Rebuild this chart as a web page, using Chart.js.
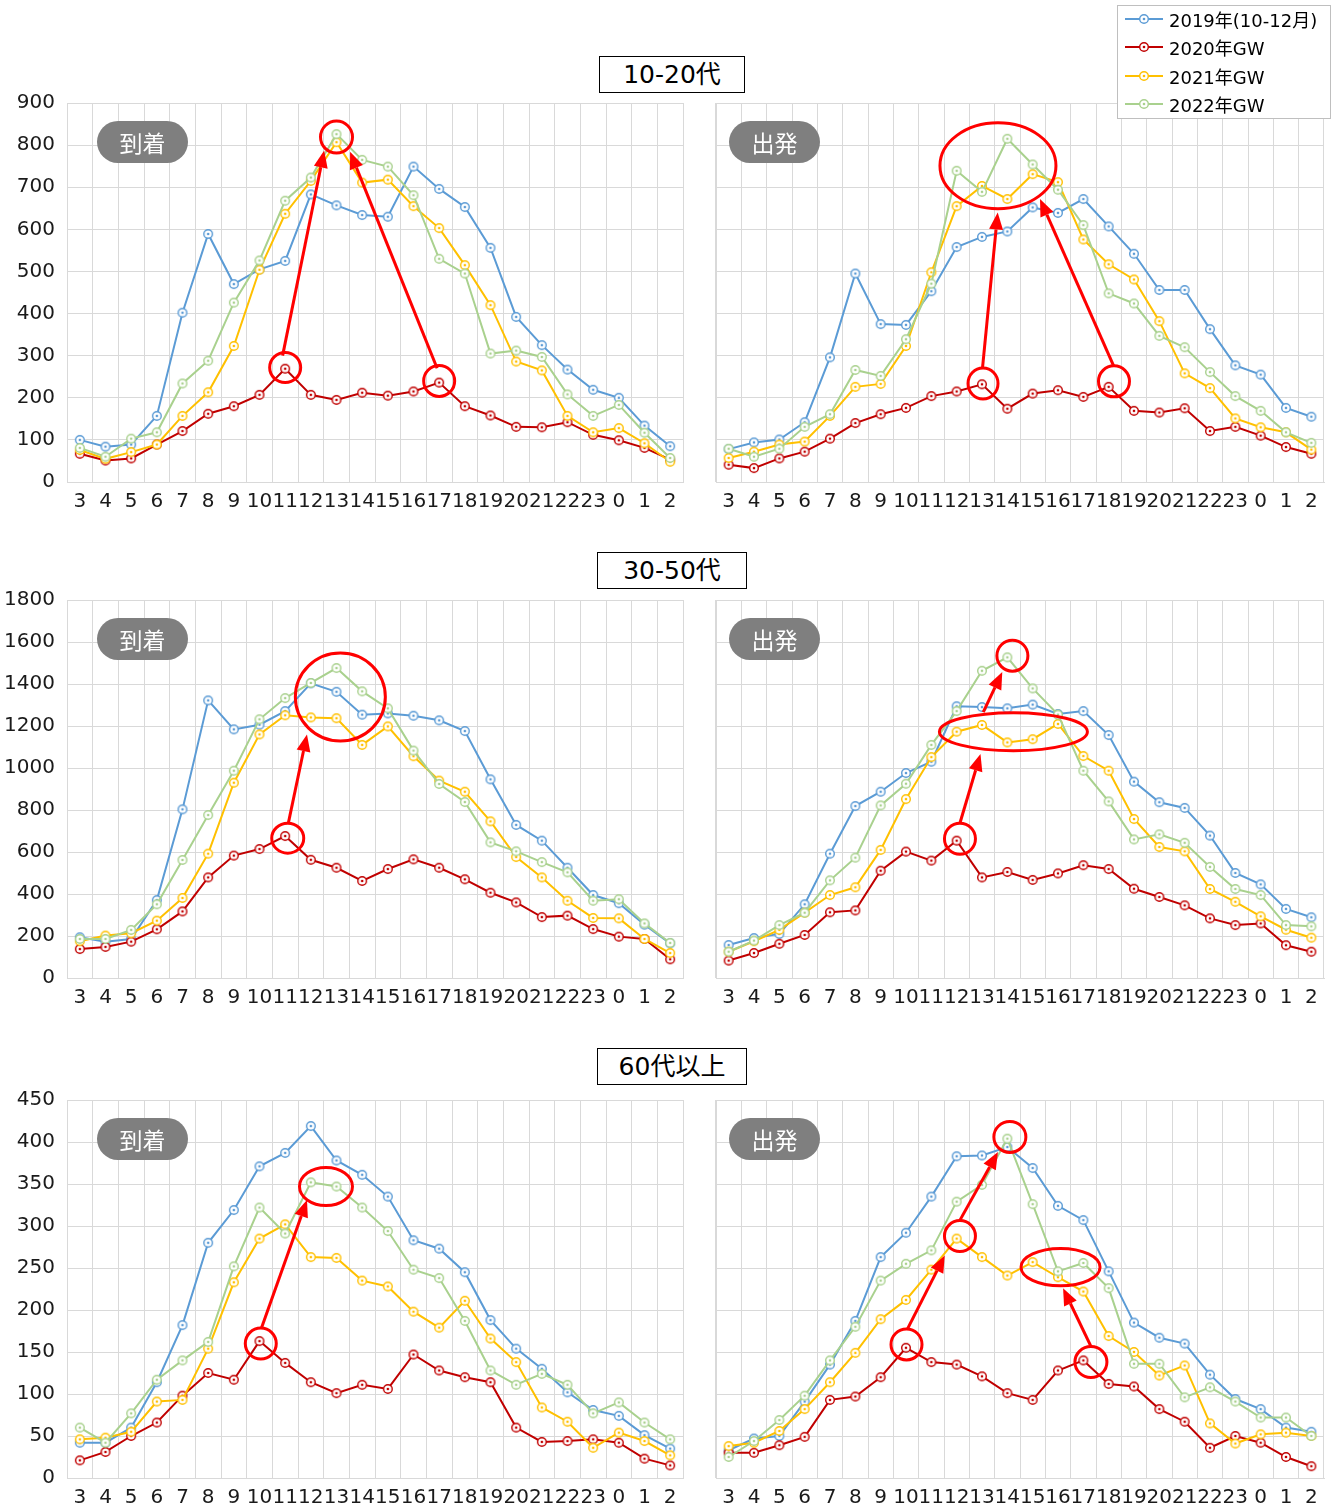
<!DOCTYPE html>
<html><head><meta charset="utf-8">
<script src="https://cdn.jsdelivr.net/npm/chart.js@4.4.1/dist/chart.umd.min.js"></script>
<style>
body{margin:0;background:#fff;}
#wrap{position:relative;width:1337px;height:1507px;overflow:hidden;background:#fff;font-family:"DejaVu Sans","Noto Sans CJK JP",sans-serif;}
canvas.cv{position:absolute;}
.title{position:absolute;border:1px solid #000;background:#fff;font-size:25px;text-align:center;color:#000;box-sizing:border-box;font-family:"DejaVu Sans","Noto Sans CJK JP",sans-serif;z-index:5;}
.pill{position:absolute;background:#7f7f7f;color:#fff;border-radius:21px;width:91px;height:42px;font-family:"Noto Sans CJK JP",sans-serif;font-size:23px;line-height:42px;text-align:center;z-index:5;}
#legend{position:absolute;left:1117px;top:5px;width:214px;height:114px;border:1px solid #bfbfbf;background:#fff;box-sizing:border-box;z-index:6;}
.lrow{position:absolute;left:6px;height:24px;display:flex;align-items:center;}
.lrow span{font-size:18px;color:#000;margin-left:5px;white-space:nowrap;}
</style>
</head><body>
<div id="wrap"></div>
<script>
// ---- data ----
const hours = ['3','4','5','6','7','8','9','10','11','12','13','14','15','16','17','18','19','20','21','22','23','0','1','2'];
const seriesNames = ['2019年(10-12月)','2020年GW','2021年GW','2022年GW'];
const seriesColors = ['#5B9BD5','#C00000','#FFC000','#A9D18E'];

const arr1020_2019 = [100,84,89,157,402,589,470,505,525,683,657,634,630,749,696,653,556,392,325,267,219,200,134,85];
const arr1020_2020 = [67,51,56,89,121,162,180,207,269,207,195,212,205,215,236,180,158,131,130,142,112,99,81,53];
const arr1020_2021 = [76,55,71,89,157,213,323,504,637,715,807,711,718,655,603,515,420,286,265,157,118,128,92,48];
const arr1020_2022 = [81,60,103,118,234,288,426,526,668,723,826,765,749,681,530,495,305,312,297,208,157,183,117,57];

const dep1020_2019 = [78,94,101,142,296,495,375,373,453,558,582,595,652,639,672,607,542,456,456,363,277,255,176,155];
const dep1020_2020 = [41,33,56,72,103,140,161,176,204,215,232,174,210,218,202,226,169,165,175,121,131,110,83,67];
const dep1020_2021 = [57,72,89,96,157,226,233,323,498,655,703,672,731,712,576,517,481,382,258,223,151,130,118,77];
const dep1020_2022 = [79,60,79,131,161,266,252,339,471,739,689,815,754,694,610,448,424,347,320,261,204,169,118,93];

const arr3050_2019 = [194,173,186,371,803,1322,1184,1206,1271,1403,1363,1254,1260,1249,1227,1176,946,729,654,525,395,356,254,165];
const arr3050_2020 = [138,148,173,232,317,479,583,614,676,563,525,462,519,565,525,470,406,360,290,297,233,197,186,89];
const arr3050_2021 = [175,202,213,273,381,592,930,1160,1251,1241,1237,1110,1198,1056,940,887,746,576,479,368,286,284,186,119];
const arr3050_2022 = [186,186,229,351,562,776,987,1232,1333,1405,1476,1365,1284,1083,924,838,646,603,552,503,368,375,260,167];

const dep3050_2019 = [157,190,210,351,592,819,887,976,1030,1294,1290,1284,1302,1257,1271,1157,935,837,810,678,500,446,329,289];
const dep3050_2020 = [83,119,163,205,313,322,511,602,559,654,479,505,467,498,537,519,425,386,346,284,252,260,156,125];
const dep3050_2021 = [125,175,229,311,395,432,610,852,1052,1173,1205,1122,1137,1210,1057,987,757,624,603,424,363,294,230,192];
const dep3050_2022 = [125,178,252,311,465,573,822,925,1110,1271,1463,1527,1379,1254,987,841,660,684,644,529,424,395,252,246];

const arr60_2019 = [42,42,60,114,182,280,319,371,387,419,378,361,335,283,273,245,188,154,130,102,81,74,51,35];
const arr60_2020 = [21,31,50,66,98,125,117,163,137,114,101,111,106,147,128,120,114,60,43,44,46,42,23,15];
const arr60_2021 = [46,48,55,91,93,154,233,285,302,263,262,235,228,198,179,211,166,138,84,67,36,54,44,27];
const arr60_2022 = [60,42,77,117,140,162,252,322,291,352,347,322,294,248,238,187,128,111,124,111,77,90,66,46];

const dep60_2019 = [33,47,50,91,135,187,263,292,335,383,384,394,369,324,307,246,185,167,160,123,94,82,60,55];
const dep60_2020 = [30,30,39,49,93,97,120,155,138,135,121,101,93,128,140,112,109,82,67,36,50,42,25,14];
const dep60_2021 = [38,42,56,82,114,149,189,212,248,285,263,241,257,239,222,169,150,122,134,65,41,52,54,50];
const dep60_2022 = [25,44,69,98,140,180,235,255,271,329,349,404,326,246,256,226,136,136,96,108,91,72,72,50];

const panelTitles = ['10-20代','30-50代','60代以上'];
const sideLabels = ['到着','出発'];
const yMaxes = [900,1800,450];
const ySteps = [100,200,50];

// annotation marks in data coordinates: circles [categoryIndex, value, rx, ry], arrows [i1, v1, i2, v2]
const ann = [
  {circles:[[8.0,272,15.5,15],[14.0,240,15.5,15.5],[10.0,819,16,16]], arrows:[[7.9,300,9.52,787],[13.92,270,10.53,784]]},
  {circles:[[10.63,751,58,43],[10.04,234,15,15.5],[15.21,239,15.5,15.5]], arrows:[[10.02,271,10.62,640],[15.2,275,12.29,672]]},
  {circles:[[10.15,1338,45,44],[8.1,666,16,15]], arrows:[[8.13,741,8.85,1160]]},
  {circles:[[11.2,1535,15.5,15.5],[11.24,1173,74,19],[9.13,663,15.5,15.5]], arrows:[[9.13,738,9.94,1067],[10.05,1266,10.8,1457]]},
  {circles:[[7.05,160,15.5,15.5],[9.59,347,26.5,19]], arrows:[[7.07,178,8.85,331]]},
  {circles:[[11.1,406,16,15.5],[9.13,288,15.5,15.5],[13.1,251,39.5,18.7],[7.02,159,15.5,15.5],[14.3,138,16,15.5]], arrows:[[7.05,177,8.53,265],[9.13,307,10.63,388],[14.31,156,13.2,226]]}
];

const panelData = [
  [arr1020_2019,arr1020_2020,arr1020_2021,arr1020_2022],
  [dep1020_2019,dep1020_2020,dep1020_2021,dep1020_2022],
  [arr3050_2019,arr3050_2020,arr3050_2021,arr3050_2022],
  [dep3050_2019,dep3050_2020,dep3050_2021,dep3050_2022],
  [arr60_2019,arr60_2020,arr60_2021,arr60_2022],
  [dep60_2019,dep60_2020,dep60_2021,dep60_2022]
];

// ---- layout ----
const rowTops = [103,600,1100];
const rowBottoms = [482,978,1478];
const colLeft = [67,709];
const colRight = [684,1325];
const titleBoxes = [[599,56,146,37],[597,552,150,37],[597,1048,150,37]];
const PAD_TOP = 12, PAD_RIGHT = 6, XAX_H = 36;

function marker(color){
  const c=document.createElement('canvas'); c.width=c.height=12;
  const g=c.getContext('2d');
  g.beginPath(); g.arc(6,6,4.3,0,2*Math.PI); g.fillStyle='#fff'; g.fill();
  g.lineWidth=1.4; g.strokeStyle=color; g.stroke();
  g.beginPath(); g.arc(6,6,1.3,0,2*Math.PI); g.fillStyle=color; g.fill();
  return c;
}
const markers = seriesColors.map(marker);

const annPlugin = {
  id:'annMarks',
  afterDatasetsDraw(chart){
    const a = chart.options.plugins.annMarks;
    if(!a) return;
    const ctx=chart.ctx, xs=chart.scales.x, ys=chart.scales.y;
    ctx.save();
    ctx.strokeStyle='#FF0000'; ctx.fillStyle='#FF0000'; ctx.lineWidth=3;
    a.circles.forEach(c=>{
      const x=xs.getPixelForValue(c[0]), y=ys.getPixelForValue(c[1]);
      ctx.beginPath(); ctx.ellipse(x,y,c[2],c[3],0,0,2*Math.PI); ctx.stroke();
    });
    a.arrows.forEach(r=>{
      const x1=xs.getPixelForValue(r[0]), y1=ys.getPixelForValue(r[1]);
      const x2=xs.getPixelForValue(r[2]), y2=ys.getPixelForValue(r[3]);
      const ang=Math.atan2(y2-y1,x2-x1), L=17, W=7;
      const bx=x2-L*Math.cos(ang), by=y2-L*Math.sin(ang);
      ctx.beginPath(); ctx.moveTo(x1,y1); ctx.lineTo(bx,by); ctx.stroke();
      ctx.beginPath(); ctx.moveTo(x2,y2);
      ctx.lineTo(bx+W*Math.sin(ang), by-W*Math.cos(ang));
      ctx.lineTo(bx-W*Math.sin(ang), by+W*Math.cos(ang));
      ctx.closePath(); ctx.fill();
    });
    ctx.restore();
  }
};

const wrap=document.getElementById('wrap');
const GRID='#d9d9d9';

for(let row=0; row<3; row++){
  for(let col=0; col<2; col++){
    const p=row*2+col;
    const plotH=rowBottoms[row]-rowTops[row];
    const left = col===0 ? 0 : colLeft[1];
    const width = colRight[col]+PAD_RIGHT-left;
    const height = PAD_TOP+plotH+XAX_H;
    const cv=document.createElement('canvas');
    cv.className='cv'; cv.width=width; cv.height=height;
    cv.style.left=left+'px'; cv.style.top=(rowTops[row]-PAD_TOP)+'px';
    cv.style.width=width+'px'; cv.style.height=height+'px';
    wrap.appendChild(cv);
    const yW = col===0 ? colLeft[0] : 0;
    const datasets = panelData[p].map((d,i)=>({
      label: seriesNames[i], data: d,
      borderColor: seriesColors[i], backgroundColor: seriesColors[i],
      borderWidth: 2, pointStyle: markers[i], pointRadius: 5,
      tension: 0, order: 3-i, clip: false
    }));
    new Chart(cv.getContext('2d'), {
      type:'line',
      data:{labels:hours, datasets},
      options:{
        responsive:false, animation:false, devicePixelRatio:1,
        layout:{padding:{top:PAD_TOP,right:PAD_RIGHT,left:0,bottom:0}},
        plugins:{legend:{display:false}, tooltip:{enabled:false}, annMarks: ann[p]},
        events:[],
        scales:{
          x:{
            offset:true,
            grid:{offset:true, color:GRID, lineWidth:1, drawTicks:false},
            border:{color:GRID},
            ticks:{autoSkip:false, maxRotation:0, minRotation:0, padding:8, color:'#1a1a1a', font:{family:'DejaVu Sans', size:20}},
            afterFit(s){ s.height = XAX_H; s.paddingLeft = 0; s.paddingRight = 0; }
          },
          y:{
            min:0, max:yMaxes[row],
            grid:{color:GRID, lineWidth:1, drawTicks:false},
            border:{color:GRID},
            ticks:{display: col===0, stepSize:ySteps[row], padding:12, color:'#1a1a1a', font:{family:'DejaVu Sans', size:20},
                   callback:(v)=>String(v)},
            afterFit(s){ s.width = yW; s.paddingTop = 0; s.paddingBottom = 0; }
          }
        }
      },
      plugins:[annPlugin]
    });
    const pill=document.createElement('div');
    pill.className='pill'; pill.textContent=sideLabels[col];
    pill.style.left=(col===0?97:729)+'px'; pill.style.top=(rowTops[row]+18)+'px';
    wrap.appendChild(pill);
  }
  const tb=titleBoxes[row];
  const t=document.createElement('div');
  t.className='title'; t.textContent=panelTitles[row];
  t.style.left=tb[0]+'px'; t.style.top=tb[1]+'px'; t.style.width=tb[2]+'px'; t.style.height=tb[3]+'px';
  t.style.lineHeight=(tb[3]-2)+'px';
  wrap.appendChild(t);
}

// legend
const lg=document.createElement('div'); lg.id='legend';
seriesNames.forEach((n,i)=>{
  const r=document.createElement('div'); r.className='lrow';
  r.style.top=(1+i*28.3)+'px';
  const sw=document.createElement('canvas'); sw.width=40; sw.height=14;
  const g=sw.getContext('2d');
  g.strokeStyle=seriesColors[i]; g.lineWidth=2;
  g.beginPath(); g.moveTo(1,7); g.lineTo(39,7); g.stroke();
  g.drawImage(markers[i],14,1);
  r.appendChild(sw);
  const s=document.createElement('span'); s.textContent=n; r.appendChild(s);
  lg.appendChild(r);
});
wrap.appendChild(lg);
</script>
</body></html>
